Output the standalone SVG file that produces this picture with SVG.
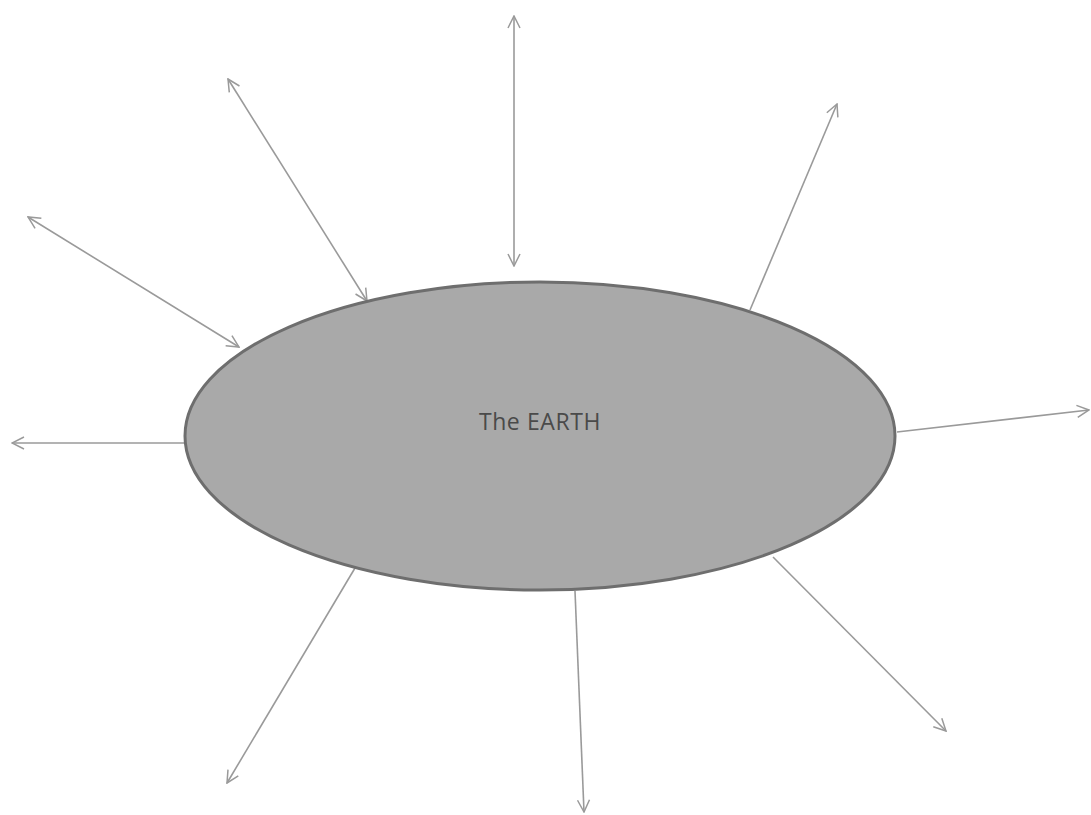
<svg xmlns="http://www.w3.org/2000/svg" width="1091" height="815" viewBox="0 0 1091 815">
<style>
.c{stroke:#9a9a9a;stroke-width:1.6;fill:none}
.lbl{font-family:"Open Sans","Liberation Sans",sans-serif;font-size:23px;letter-spacing:0.6px;fill:#4a4a4a}
</style>
<defs>
<marker id="ah" viewBox="0 0 14 14" refX="13" refY="7" markerWidth="14" markerHeight="14" markerUnits="userSpaceOnUse" orient="auto-start-reverse">
<path d="M1,1 L13,7 L1,13" fill="none" stroke="#9a9a9a" stroke-width="1.5"/>
</marker>
</defs>
<rect width="1091" height="815" fill="#ffffff"/>
<g id="connectors">
<line class="c" x1="514" y1="16" x2="514" y2="266" marker-start="url(#ah)" marker-end="url(#ah)"/>
<line class="c" x1="28" y1="217" x2="239" y2="347" marker-start="url(#ah)" marker-end="url(#ah)"/>
<line class="c" x1="228" y1="79" x2="367" y2="301" marker-start="url(#ah)" marker-end="url(#ah)"/>
<line class="c" x1="750" y1="310" x2="837" y2="104" marker-end="url(#ah)"/>
<line class="c" x1="185" y1="443" x2="12" y2="443" marker-end="url(#ah)"/>
<line class="c" x1="897" y1="432" x2="1089" y2="410" marker-end="url(#ah)"/>
<line class="c" x1="355" y1="568" x2="227" y2="783" marker-end="url(#ah)"/>
<line class="c" x1="575" y1="591" x2="584" y2="812" marker-end="url(#ah)"/>
<line class="c" x1="773" y1="557" x2="946" y2="731" marker-end="url(#ah)"/>
</g>
<g id="earth">
<ellipse cx="540" cy="436" rx="355" ry="154" fill="#a9a9a9" stroke="#6e6e6e" stroke-width="3"/>
<text class="lbl" x="540" y="430" text-anchor="middle">The EARTH</text>
</g>
</svg>
